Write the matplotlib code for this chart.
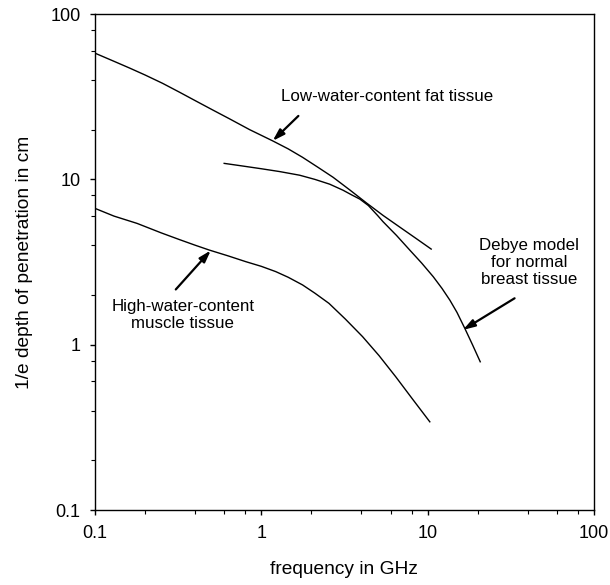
import matplotlib
matplotlib.use("Agg")
import matplotlib.pyplot as plt
from matplotlib.ticker import LogLocator, FixedFormatter, FixedLocator, NullFormatter

plt.rcParams['font.family'] = ['Liberation Sans', 'DejaVu Sans']

# Data (frequency in GHz, 1/e depth in cm)
fat_freq = [0.1, 0.13, 0.161, 0.2, 0.255, 0.32, 0.404, 0.51, 0.641, 0.85, 1.17,
            1.45, 1.77, 2.2, 2.70, 3.42, 4.29, 5.4, 6.79, 8.5, 10.5]
fat_depth = [58.0, 51.8, 47.2, 42.8, 38.1, 33.8, 29.8, 26.3, 23.3, 20.0, 17.1,
             15.3, 13.6, 11.8, 10.3, 8.6, 7.2, 6.05, 5.15, 4.4, 3.79]

debye_freq = [0.598, 0.75, 1.0, 1.29, 1.70, 2.1, 2.58, 3.1, 3.5, 3.91, 4.4, 5.0,
              5.39, 6.5, 7.8, 9.2, 10.8, 12.2, 13.6, 15.0, 16.7, 18.6, 20.7]
debye_depth = [12.5, 12.1, 11.6, 11.15, 10.6, 10.0, 9.35, 8.6, 8.05, 7.6, 6.95, 6.05,
               5.55, 4.58, 3.74, 3.12, 2.58, 2.19, 1.86, 1.57, 1.26, 1.0, 0.789]

muscle_freq = [0.1, 0.13, 0.179, 0.25, 0.321, 0.4, 0.486, 0.63, 0.807, 1.0, 1.22,
               1.45, 1.77, 2.1, 2.55, 3.2, 4.06, 5.1, 6.43, 8.1, 10.3]
muscle_depth = [6.68, 6.0, 5.42, 4.75, 4.33, 4.0, 3.74, 3.45, 3.18, 2.98, 2.77,
                2.56, 2.30, 2.05, 1.78, 1.43, 1.12, 0.86, 0.64, 0.47, 0.342]

x_ticks = [0.1, 1, 10, 100]
x_ticklabels = ["0.1", "1", "10", "100"]
y_ticks = [0.1, 1, 10, 100]
y_ticklabels = ["0.1", "1", "10", "100"]

labels = ["Low-water-content fat tissue",
          "Debye model\nfor normal\nbreast tissue",
          "High-water-content\nmuscle tissue"]
label_pos = [(5.71, 31.6), (40.5, 3.15), (0.337, 1.51)]
arrow_tail = [(1.67, 24.2), (33.3, 1.91), (0.306, 2.16)]
arrow_head = [(1.17, 17.1), (16.3, 1.23), (0.497, 3.72)]

fig = plt.figure(figsize=(6.10, 5.85), dpi=100)
ax = fig.add_axes([0.1557, 0.128, 0.8181, 0.848])

lw = 1.0
ax.plot(fat_freq, fat_depth, color='black', lw=lw, solid_joinstyle='round')
ax.plot(debye_freq, debye_depth, color='black', lw=lw, solid_joinstyle='round')
ax.plot(muscle_freq, muscle_depth, color='black', lw=lw, solid_joinstyle='round')

ax.set_xscale('log')
ax.set_yscale('log')
ax.set_xlim(0.1, 100)
ax.set_ylim(0.1, 100)

ax.xaxis.set_major_locator(FixedLocator(x_ticks))
ax.xaxis.set_major_formatter(FixedFormatter(x_ticklabels))
ax.yaxis.set_major_locator(FixedLocator(y_ticks))
ax.yaxis.set_major_formatter(FixedFormatter(y_ticklabels))
ax.xaxis.set_minor_locator(LogLocator(base=10, subs=[2, 4, 6, 8]))
ax.yaxis.set_minor_locator(LogLocator(base=10, subs=[2, 4, 6, 8]))
ax.xaxis.set_minor_formatter(NullFormatter())
ax.yaxis.set_minor_formatter(NullFormatter())

ax.tick_params(which='major', direction='out', length=3.5, width=1.0, labelsize=13, pad=7,
               top=False, right=False)
ax.tick_params(which='minor', direction='out', length=3.0, width=0.8, top=False, right=False)
for s in ax.spines.values():
    s.set_linewidth(1.0)

ax.set_xlabel("frequency in GHz", fontsize=13.8, labelpad=14)
ax.set_ylabel("1/e depth of penetration in cm", fontsize=13.8, labelpad=12)

for text, pos, tail, head in zip(labels, label_pos, arrow_tail, arrow_head):
    ax.text(pos[0], pos[1], text, ha='center', va='center', fontsize=12.2,
            linespacing=1.15)
    ax.annotate("", xy=head, xytext=tail,
                arrowprops=dict(arrowstyle='-|>,head_length=0.7,head_width=0.22',
                                color='black', lw=1.6, shrinkA=0, shrinkB=0))

fig.savefig("out.png", dpi=100)
